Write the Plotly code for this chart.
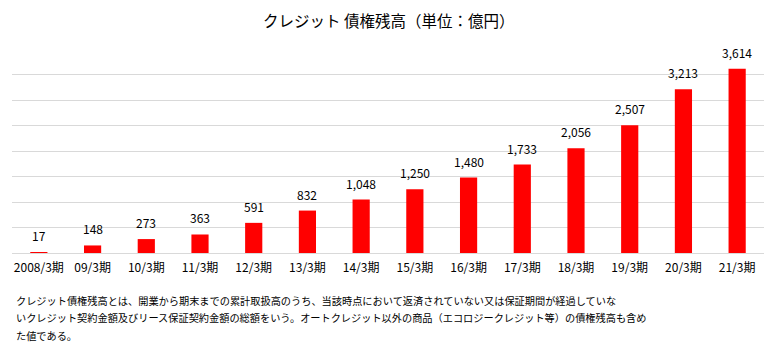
import plotly.graph_objects as go

categories = ["2008/3期", "09/3期", "10/3期", "11/3期", "12/3期", "13/3期", "14/3期",
              "15/3期", "16/3期", "17/3期", "18/3期", "19/3期", "20/3期", "21/3期"]
values = [17, 148, 273, 363, 591, 832, 1048, 1250, 1480, 1733, 2056, 2507, 3213, 3614]

title_text = "クレジット 債権残高（単位：億円）"
note_lines = [
    "クレジット債権残高とは、開業から期末までの累計取扱高のうち、当該時点において返済されていない又は保証期間が経過していな",
    "いクレジット契約金額及びリース保証契約金額の総額をいう。オートクレジット以外の商品（エコロジークレジット等）の債権残高も含め",
    "た値である。",
]

FONT = "Noto Sans CJK JP"

fig = go.Figure()
fig.add_trace(go.Bar(
    x=categories, y=values,
    marker=dict(color="#ff0000", line=dict(width=0)),
    width=0.32,
    hoverinfo="skip",
))

for c, v in zip(categories, values):
    fig.add_annotation(x=c, y=v, text=f"{v:,}", showarrow=False,
                       yanchor="bottom", yshift=6,
                       font=dict(family=FONT, size=12, color="#000000"))

fig.add_annotation(xref="paper", yref="paper", x=0.5, y=1.0, yshift=29,
                   text=title_text, showarrow=False, xanchor="center", yanchor="middle",
                   font=dict(family=FONT, size=15.5, color="#000000"))

for i, line in enumerate(note_lines):
    fig.add_annotation(xref="paper", yref="paper", x=0, xshift=2, y=0, yshift=-47 - 17.5 * i,
                       text=line, showarrow=False,
                       xanchor="left", yanchor="middle", align="left",
                       font=dict(family=FONT, size=10.2, color="#000000"))

fig.update_layout(
    width=777, height=347,
    margin=dict(l=12, r=13, t=49, b=94),
    paper_bgcolor="white", plot_bgcolor="white",
    showlegend=False,
    bargap=0.68,
    font=dict(family=FONT, size=12, color="#000000"),
)
fig.update_xaxes(showgrid=False, showline=True, linecolor="#d9d9d9", linewidth=1,
                 ticks="", ticklabelstandoff=4,
                 tickfont=dict(family=FONT, size=12, color="#000000"))
fig.update_yaxes(range=[0, 4000], dtick=500, showticklabels=False, showgrid=True,
                 gridcolor="#d9d9d9", gridwidth=1, zeroline=False, showline=False)

fig.write_html("out.html")
